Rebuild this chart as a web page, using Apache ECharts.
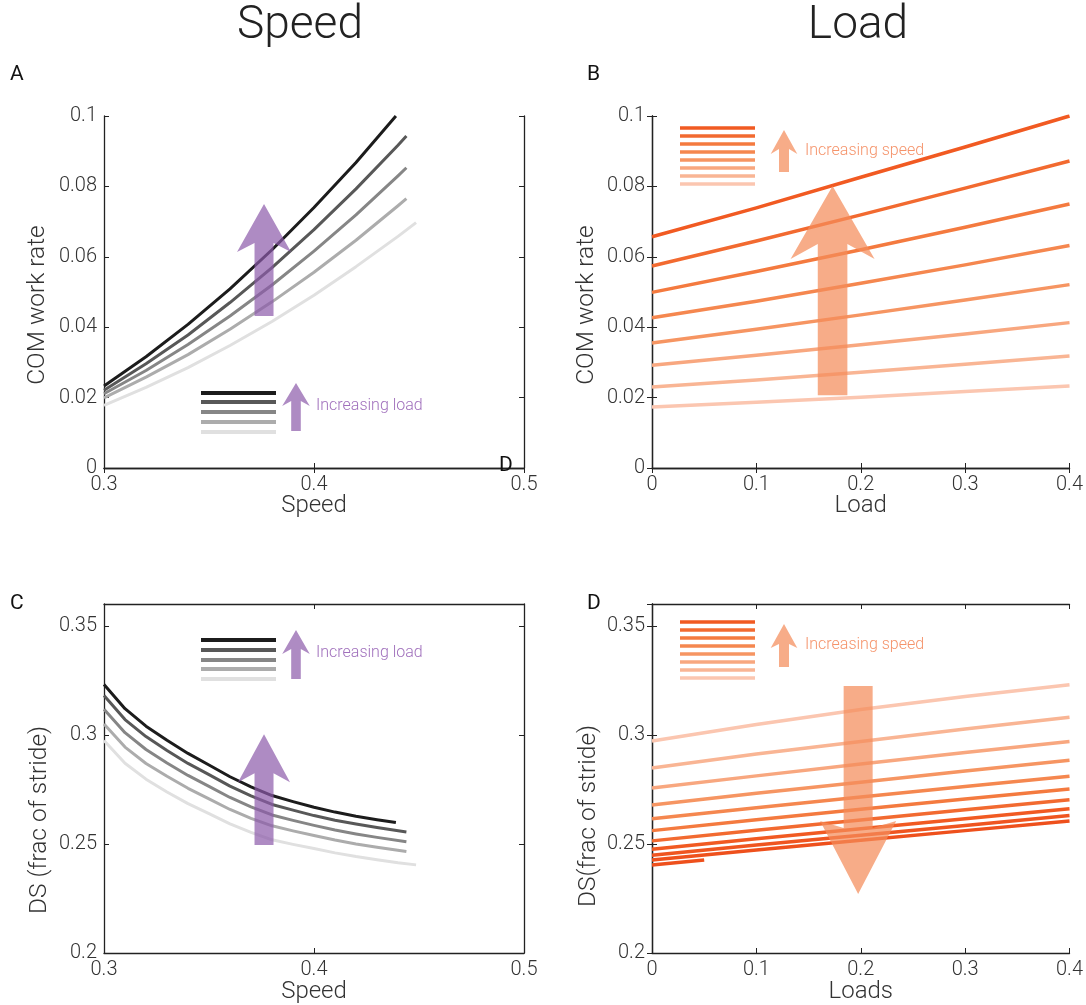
<!DOCTYPE html>
<html><head><meta charset="utf-8">
<script src="https://cdn.jsdelivr.net/npm/echarts@6/dist/echarts.min.js"></script>
<style>html,body{margin:0;padding:0;background:#fff}#c{width:1086px;height:1005px}</style>
</head><body><div id="c"></div>
<script>
// ---------- DATA ----------
// Panel A: COM work rate vs speed, one curve per load (heaviest first)
const aSpeed1 = [0.30,0.32,0.34,0.36,0.38,0.40,0.42,0.439];
const aRate1  = [0.0233,0.0316,0.0408,0.0509,0.0620,0.0740,0.0868,0.1000];
const aSpeed2 = [0.30,0.32,0.34,0.36,0.38,0.40,0.42,0.44,0.444];
const aRate2  = [0.0221,0.0296,0.0378,0.0470,0.0569,0.0677,0.0793,0.0917,0.0943];
const aRate3  = [0.0211,0.0277,0.0351,0.0432,0.0520,0.0616,0.0719,0.0830,0.0853];
const aRate4  = [0.0199,0.0258,0.0322,0.0394,0.0472,0.0556,0.0647,0.0745,0.0765];
const aSpeed5 = [0.30,0.32,0.34,0.36,0.38,0.40,0.42,0.44,0.4486];
const aRate5  = [0.0178,0.0229,0.0285,0.0348,0.0416,0.0491,0.0572,0.0658,0.0697];

// Panel C: double support (frac of stride) vs speed
const cSpeed1 = [0.30,0.31,0.32,0.33,0.34,0.35,0.36,0.37,0.38,0.39,0.40,0.41,0.42,0.43,0.439];
const cDs1    = [0.3231,0.3120,0.3040,0.2975,0.2915,0.2862,0.2808,0.2762,0.2722,0.2694,0.2668,0.2646,0.2627,0.2611,0.2598];
const cSpeed2 = [0.30,0.31,0.32,0.33,0.34,0.35,0.36,0.37,0.38,0.39,0.40,0.41,0.42,0.43,0.444];
const cDs2    = [0.3180,0.3070,0.2992,0.2928,0.2869,0.2818,0.2765,0.2720,0.2681,0.2655,0.2630,0.2609,0.2591,0.2575,0.2555];
const cDs3    = [0.3118,0.3010,0.2933,0.2871,0.2814,0.2764,0.2713,0.2670,0.2633,0.2608,0.2585,0.2564,0.2546,0.2530,0.2510];
const cDs4    = [0.3050,0.2944,0.2869,0.2810,0.2755,0.2707,0.2658,0.2617,0.2583,0.2560,0.2539,0.2518,0.2500,0.2485,0.2465];
const cSpeed5 = [0.30,0.31,0.32,0.33,0.34,0.35,0.36,0.37,0.38,0.39,0.40,0.41,0.42,0.43,0.44,0.4486];
const cDs5    = [0.2974,0.2870,0.2797,0.2738,0.2685,0.2639,0.2592,0.2553,0.2519,0.2498,0.2479,0.2459,0.2442,0.2428,0.2414,0.2404];

// Panel B: COM work rate vs load, one line per speed (fastest first)
const loads = [0, 0.1, 0.2, 0.3, 0.4];
const bRate1 = [0.0657,0.0739,0.0826,0.0912,0.1000];
const bRate2 = [0.0574,0.0645,0.0719,0.0795,0.0872];
const bRate3 = [0.0499,0.0558,0.0620,0.0684,0.0750];
const bRate4 = [0.0427,0.0474,0.0525,0.0577,0.0632];
const bRate5 = [0.0355,0.0394,0.0435,0.0477,0.0521];
const bRate6 = [0.0292,0.0320,0.0350,0.0381,0.0413];
const bRate7 = [0.0230,0.0250,0.0272,0.0295,0.0318];
const bRate8 = [0.0173,0.0187,0.0201,0.0217,0.0233];

// Panel D: double support vs load, one line per speed (slowest first)
const dDs1  = [0.2972,0.3048,0.3116,0.3176,0.3230];
const dDs2  = [0.2848,0.2912,0.2970,0.3027,0.3081];
const dDs3  = [0.2756,0.2812,0.2866,0.2919,0.2970];
const dDs4  = [0.2679,0.2732,0.2783,0.2834,0.2884];
const dDs5  = [0.2615,0.2666,0.2715,0.2763,0.2810];
const dDs6  = [0.2561,0.2611,0.2659,0.2706,0.2752];
const dDs7  = [0.2514,0.2563,0.2610,0.2657,0.2703];
const dDs8  = [0.2476,0.2524,0.2570,0.2616,0.2661];
const dDs9  = [0.2448,0.2495,0.2540,0.2585,0.2630];
const dDs10 = [0.2426,0.2472,0.2517,0.2561,0.2605];
const dShortLoads = [0, 0.05];
const dDs11 = [0.2403,0.2426];

// ---------- STYLE ----------
const FONT = "Roboto, 'Helvetica Neue', Arial, sans-serif";
const grays = ['#1c1c1c','#585858','#868686','#acacac','#e0e0e0'];
const oranges = ['#f15a22','#f26a30','#f47a3f','#f5874f','#f69562','#f8a77f','#f9b594','#fbc6b0'];
const dColors = ['#fbc6b0','#f9b594','#f8a77f','#f69562','#f5874f','#f47a3f','#f26a30','#f15a22','#ef5520','#ee501c','#ee501c'];
const purpleFill = 'rgba(140,90,170,0.7)';
const orangeFill = 'rgba(244,140,90,0.72)';

const grids = [
  {left:104, top:116, width:420, height:352},
  {left:652, top:116, width:418, height:352},
  {left:104, top:604, width:420, height:350},
  {left:652, top:604, width:418, height:350}
];
const xCfg = [
  {min:0.3, max:0.5, interval:0.1, name:'Speed', gap:38},
  {min:0, max:0.4, interval:0.1, name:'Load', gap:38},
  {min:0.3, max:0.5, interval:0.1, name:'Speed', gap:39},
  {min:0, max:0.4, interval:0.1, name:'Loads', gap:39}
];
const yCfg = [
  {min:0, max:0.1, interval:0.02},
  {min:0, max:0.1, interval:0.02},
  {min:0.2, max:0.36, interval:0.05},
  {min:0.2, max:0.36, interval:0.05}
];
const yNames = [
  {t:'COM work rate', x:38, y:305},
  {t:'COM work rate', x:587, y:305},
  {t:'DS (frac of stride)', x:40, y:820},
  {t:'DS(frac of stride)', x:589, y:816}
];

const axisLine = {show:true, lineStyle:{color:'#222', width:1.3}};
const axisTick = {show:true, inside:true, length:5, lineStyle:{color:'#222', width:1}};
const lblStyle = {fontSize:20, color:'#333', fontFamily:FONT, fontWeight:300};
const xAxes = [], yAxes = [];
grids.forEach((g,i)=>{
  const xc = xCfg[i], yc = yCfg[i];
  xAxes.push({type:'value', gridIndex:i, position:'bottom', min:xc.min, max:xc.max, interval:xc.interval,
    name:xc.name, nameLocation:'middle', nameGap:xc.gap, nameMoveOverlap:false,
    nameTextStyle:{fontSize:24, color:'#333', fontFamily:FONT, fontWeight:300, verticalAlign:'middle'},
    axisLine, axisTick, splitLine:{show:false},
    axisLabel:Object.assign({margin:7}, lblStyle)});
  xAxes.push({type:'value', gridIndex:i, position:'top', min:xc.min, max:xc.max, interval:xc.interval,
    axisLine, axisTick, splitLine:{show:false}, axisLabel:{show:false}});
  yAxes.push({type:'value', gridIndex:i, position:'left', min:yc.min, max:yc.max, interval:yc.interval,
    axisLine, axisTick, splitLine:{show:false},
    axisLabel:Object.assign({margin:7, showMaxLabel: i<2}, lblStyle)});
  yAxes.push({type:'value', gridIndex:i, position:'right', min:yc.min, max:yc.max, interval:yc.interval,
    axisLine, axisTick, splitLine:{show:false}, axisLabel:{show:false}});
});

function zip(xs, ys){ return ys.map((y,k)=>[xs[k], y]); }
const series = [];
function addLine(panel, xs, ys, color, width){
  series.push({type:'line', xAxisIndex:panel*2, yAxisIndex:panel*2, data:zip(xs,ys),
    showSymbol:false, silent:true, animation:false, z:2,
    lineStyle:{color, width, cap:'butt', join:'round'}});
}
// A
addLine(0, aSpeed1, aRate1, grays[0], 3);
addLine(0, aSpeed2, aRate2, grays[1], 3);
addLine(0, aSpeed2, aRate3, grays[2], 3);
addLine(0, aSpeed2, aRate4, grays[3], 3);
addLine(0, aSpeed5, aRate5, grays[4], 3);
// B
[bRate1,bRate2,bRate3,bRate4,bRate5,bRate6,bRate7,bRate8].forEach((r,k)=>addLine(1, loads, r, oranges[k], 3.5));
// C
addLine(2, cSpeed1, cDs1, grays[0], 3);
addLine(2, cSpeed2, cDs2, grays[1], 3);
addLine(2, cSpeed2, cDs3, grays[2], 3);
addLine(2, cSpeed2, cDs4, grays[3], 3);
addLine(2, cSpeed5, cDs5, grays[4], 3);
// D
[dDs1,dDs2,dDs3,dDs4,dDs5,dDs6,dDs7,dDs8,dDs9,dDs10].forEach((r,k)=>addLine(3, loads, r, dColors[k], 3.5));
addLine(3, dShortLoads, dDs11, dColors[10], 3.5);

// arrow polygon in pixel space
function arrowPts(cx, tipY, tailY, hw, hl, nd, sw){
  const s = Math.sign(tailY - tipY);
  const cy = tipY + s*hl, ny = tipY + s*(hl-nd);
  return [[cx,tipY],[cx+hw,cy],[cx+sw,ny],[cx+sw,tailY],[cx-sw,tailY],[cx-sw,ny],[cx-hw,cy]];
}
// big arrows: anchored in data space [centre x, tail y, tip y], sizes in px
const bigArrows = [
  {panel:0, anchor:[0.3762, 0.0432, 0.075], hw:27, hl:48, nd:9, sw:9.5, fill:purpleFill},
  {panel:1, anchor:[0.173, 0.0207, 0.0801], hw:42, hl:73, nd:15, sw:14.8, fill:orangeFill},
  {panel:2, anchor:[0.3762, 0.2495, 0.3003], hw:26, hl:48, nd:9, sw:9.5, fill:purpleFill},
  {panel:3, anchor:[0.1975, 0.3224, 0.2270], hw:38, hl:73, nd:7, sw:14.5, fill:orangeFill}
];
bigArrows.forEach(a=>{
  series.push({type:'custom', xAxisIndex:a.panel*2, yAxisIndex:a.panel*2, z:5, silent:true, animation:false,
    data:[a.anchor],
    renderItem:(params, api)=>{
      const tail = api.coord([api.value(0), api.value(1)]);
      const tip = api.coord([api.value(0), api.value(2)]);
      return {type:'polygon', shape:{points:arrowPts(tip[0], tip[1], tail[1], a.hw, a.hl, a.nd, a.sw)},
        style:{fill:a.fill}};
    }});
});

// ---------- GRAPHIC (titles, letters, legends) ----------
const graphic = [];
function text(x, y, t, size, color, align, weight, rot){
  graphic.push({type:'text', x, y, z:10, rotation:rot||0, style:{text:t, fontSize:size, fill:color, fontFamily:FONT,
    fontWeight:weight||300, align:align||'left', verticalAlign:'middle'}});
}
text(300, 26, 'Speed', 46, '#222', 'center');
text(858, 26, 'Load', 46, '#222', 'center');
text(10, 75, 'A', 21, '#111', 'left', 400);
text(587, 75, 'B', 21, '#111', 'left', 400);
text(10, 604, 'C', 21, '#111', 'left', 400);
text(587, 604, 'D', 21, '#111', 'left', 400);
text(499, 466, 'D', 21, '#111', 'left', 400);
yNames.forEach(n=>text(n.x, n.y, n.t, 24.5, '#333', 'center', 300, Math.PI/2));

function legendLines(x1, x2, ys, colors, w){
  ys.forEach((y,k)=>graphic.push({type:'line', z:10, shape:{x1, y1:y, x2, y2:y},
    style:{stroke:colors[k], lineWidth:w}}));
}
legendLines(201, 276, [393,402,412,422,432], grays, 4);
legendLines(201, 276, [640,650,660,669,679], grays, 4);
legendLines(680, 755, [128,136,144,152,160,168,176,184], oranges, 3.5);
legendLines(680, 755, [622,630,638,646,654,662,670,678], oranges, 3.5);

function smallArrow(cx, tipY, tailY, hw, hl, nd, sw, fill){
  graphic.push({type:'polygon', z:10, shape:{points:arrowPts(cx, tipY, tailY, hw, hl, nd, sw)}, style:{fill}});
}
smallArrow(296, 383, 431, 13.8, 23, 5, 4.8, purpleFill);
smallArrow(296, 630, 679, 13.8, 24, 5, 4.8, purpleFill);
smallArrow(784, 130, 172, 13.3, 24, 5, 5, orangeFill);
smallArrow(784, 624, 667, 13.3, 24, 4, 5, orangeFill);
text(316, 406, 'Increasing load', 16, '#a070bc');
text(316, 653, 'Increasing load', 16, '#a070bc');
text(805, 151, 'Increasing speed', 16, '#f5936a');
text(805, 645, 'Increasing speed', 16, '#f5936a');

const chart = echarts.init(document.getElementById('c'), null, {renderer:'canvas'});
chart.setOption({
  animation:false,
  backgroundColor:'#fff',
  grid: grids,
  xAxis: xAxes,
  yAxis: yAxes,
  series,
  graphic
});
</script>
</body></html>
